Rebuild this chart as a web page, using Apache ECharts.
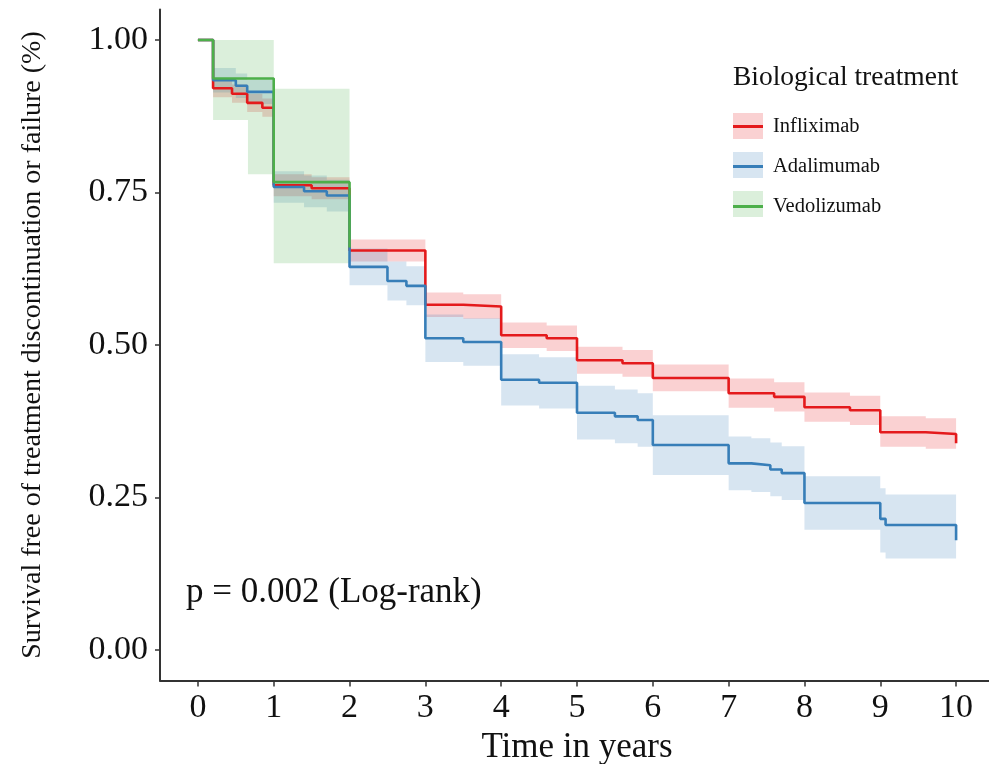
<!DOCTYPE html>
<html>
<head>
<meta charset="utf-8">
<script src="https://cdn.jsdelivr.net/npm/echarts@6/dist/echarts.min.js"></script>
<style>
html,body{margin:0;padding:0;background:#fff;}
#chart{width:989px;height:764px;}
</style>
</head>
<body>
<div id="chart"></div>
<script>
// ---- Data ----
const seriesNames = ['Infliximab', 'Adalimumab', 'Vedolizumab'];
const xTicks = [0, 1, 2, 3, 4, 5, 6, 7, 8, 9, 10];
const yTicks = [0, 0.25, 0.5, 0.75, 1];

const inflixTime = [0, 0.2, 0.45, 0.65, 0.85, 1, 1.5, 2, 3, 3.5, 4, 4.6, 5, 5.6, 6, 7, 7.6, 8, 8.6, 9, 9.6, 10];
const inflixSurv = [1, 0.921, 0.912, 0.897, 0.889, 0.762, 0.757, 0.655, 0.566, 0.563, 0.516, 0.511, 0.475, 0.470, 0.446, 0.421, 0.415, 0.398, 0.393, 0.357, 0.354, 0.339];
const inflixLow  = [1, 0.906, 0.897, 0.882, 0.874, 0.744, 0.739, 0.637, 0.546, 0.543, 0.495, 0.490, 0.453, 0.448, 0.424, 0.397, 0.391, 0.374, 0.369, 0.333, 0.330, 0.339];
const inflixHigh = [1, 0.936, 0.927, 0.912, 0.904, 0.780, 0.775, 0.673, 0.586, 0.583, 0.537, 0.532, 0.497, 0.492, 0.468, 0.445, 0.439, 0.422, 0.417, 0.383, 0.380, 0.339];

const adaTime = [0, 0.2, 0.5, 0.65, 1, 1.4, 1.7, 2, 2.5, 2.75, 3, 3.5, 4, 4.5, 5, 5.5, 5.8, 6, 7, 7.3, 7.55, 7.7, 8, 9, 9.07, 10];
const adaSurv = [1, 0.934, 0.925, 0.915, 0.759, 0.752, 0.745, 0.628, 0.605, 0.597, 0.511, 0.505, 0.443, 0.438, 0.389, 0.383, 0.377, 0.336, 0.306, 0.303, 0.296, 0.290, 0.241, 0.215, 0.205, 0.180];
const adaLow  = [1, 0.914, 0.905, 0.895, 0.733, 0.726, 0.719, 0.598, 0.573, 0.565, 0.472, 0.466, 0.401, 0.396, 0.345, 0.339, 0.333, 0.287, 0.262, 0.259, 0.252, 0.246, 0.197, 0.160, 0.150, 0.180];
const adaHigh = [1, 0.954, 0.945, 0.935, 0.785, 0.778, 0.771, 0.658, 0.637, 0.629, 0.550, 0.544, 0.485, 0.480, 0.433, 0.427, 0.421, 0.385, 0.350, 0.347, 0.340, 0.334, 0.285, 0.265, 0.255, 0.180];

const vedoTime = [0, 0.2, 0.66, 1, 2];
const vedoSurv = [1, 0.937, 0.937, 0.767, 0.660];
const vedoLow  = [1, 0.869, 0.780, 0.634, 0.660];
const vedoHigh = [1, 1.000, 1.000, 0.920, 0.660];

const pText = 'p = 0.002 (Log-rank)';

// ---- Styling ----
const colors = ['#E41A1C', '#377EB8', '#4DAF4A'];
const bandColors = ['rgba(228,26,28,0.20)', 'rgba(55,126,184,0.20)', 'rgba(77,175,74,0.20)'];
const FONT = '"Liberation Serif", "DejaVu Serif", serif';

const groups = [
  {t: inflixTime, s: inflixSurv, lo: inflixLow, hi: inflixHigh},
  {t: adaTime, s: adaSurv, lo: adaLow, hi: adaHigh},
  {t: vedoTime, s: vedoSurv, lo: vedoLow, hi: vedoHigh}
];

function zip(a, b) { return a.map((v, i) => [v, b[i]]); }

const series = [];
// confidence bands as stepped polygons
groups.forEach((g, gi) => {
  series.push({
    type: 'custom',
    name: seriesNames[gi] + ' CI',
    coordinateSystem: 'cartesian2d',
    silent: true,
    z: 1,
    data: [[g.t[0], g.lo[0]]],
    renderItem: function (params, api) {
      const up = [], dn = [];
      for (let i = 0; i < g.t.length; i++) {
        up.push(api.coord([g.t[i], g.hi[i]]));
        if (i < g.t.length - 1) up.push(api.coord([g.t[i + 1], g.hi[i]]));
        dn.push(api.coord([g.t[i], g.lo[i]]));
        if (i < g.t.length - 1) dn.push(api.coord([g.t[i + 1], g.lo[i]]));
      }
      const pts = up.concat(dn.reverse());
      return {
        type: 'polygon',
        shape: {points: pts},
        style: {fill: bandColors[gi], stroke: null}
      };
    }
  });
});
// survival step lines
groups.forEach((g, gi) => {
  series.push({
    type: 'line',
    name: seriesNames[gi],
    step: 'end',
    showSymbol: false,
    symbol: 'none',
    z: 3 + gi,
    data: zip(g.t, g.s),
    lineStyle: {color: colors[gi], width: 2.6},
    itemStyle: {color: colors[gi]}
  });
});

const option = {
  backgroundColor: '#ffffff',
  animation: false,
  grid: {left: 160, top: 9.5, width: 834, height: 671, containLabel: false, outerBoundsMode: 'none'},
  xAxis: {
    type: 'value', min: -0.5, max: 10.5,
    name: 'Time in years', nameLocation: 'middle', nameGap: 44,
    nameTextStyle: {fontFamily: FONT, fontSize: 35, color: '#111'},
    axisLine: {show: true, onZero: false, lineStyle: {color: '#333', width: 2}},
    axisTick: {show: true, length: 6, lineStyle: {color: '#333', width: 1.5},
      customValues: xTicks},
    axisLabel: {fontFamily: FONT, fontSize: 34, color: '#111', margin: 11,
      customValues: xTicks},
    splitLine: {show: false}
  },
  yAxis: {
    type: 'value', min: -0.05, max: 1.05,
    name: 'Survival free of treatment discontinuation or failure (%)',
    nameLocation: 'middle', nameRotate: 90, nameGap: 113,
    nameTextStyle: {fontFamily: FONT, fontSize: 28, color: '#111'},
    axisLine: {show: true, onZero: false, lineStyle: {color: '#333', width: 2}},
    axisTick: {show: true, length: 5, lineStyle: {color: '#333', width: 1.5},
      customValues: yTicks},
    axisLabel: {fontFamily: FONT, fontSize: 34, color: '#111', margin: 12,
      customValues: yTicks,
      formatter: v => v.toFixed(2)},
    splitLine: {show: false}
  },
  legend: [
    {
      // pale band boxes behind the keys
      orient: 'vertical', left: 728, top: 108, itemWidth: 30, itemHeight: 26,
      itemGap: 13, selectedMode: false, z: 4,
      data: seriesNames.map((n, i) => ({name: n, icon: 'rect', itemStyle: {color: bandColors[i]}})),
      formatter: () => ' ',
      textStyle: {fontFamily: FONT, fontSize: 20, lineHeight: 20, color: 'rgba(0,0,0,0)'}
    },
    {
      orient: 'vertical', left: 728, top: 111, itemWidth: 30, itemHeight: 3,
      itemGap: 19, selectedMode: false, z: 5,
      data: seriesNames.map((n) => ({name: n, icon: 'rect'})),
      textStyle: {fontFamily: FONT, fontSize: 20.5, lineHeight: 20, color: '#111', padding: [0, 0, 0, 5]}
    }
  ],
  title: [
    {text: 'Biological treatment', left: 728, top: 59,
      textStyle: {fontFamily: FONT, fontSize: 27.5, fontWeight: 'normal', color: '#111'}},
    {text: pText, left: 181, top: 570,
      textStyle: {fontFamily: FONT, fontSize: 35, fontWeight: 'normal', color: '#111'}}
  ],
  series: series
};

const chart = echarts.init(document.getElementById('chart'), null, {renderer: 'canvas'});
chart.setOption(option);
</script>
</body>
</html>
